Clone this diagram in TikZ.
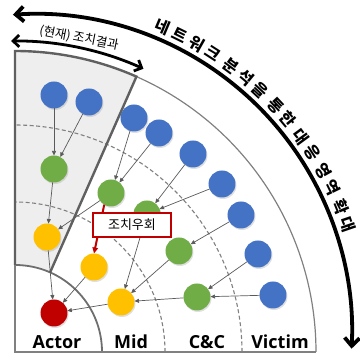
\documentclass[tikz,border=0pt]{standalone}
\usepackage{fontspec}
\setmainfont{Open Sans}
\newfontfamily\kfont{Noto Sans CJK KR}
\newfontfamily\lfont{Open Sans}
\usetikzlibrary{arrows.meta,shadows,calc}
\definecolor{cblue}{RGB}{68,114,196}
\definecolor{cgreen}{RGB}{112,173,71}
\definecolor{cyellow}{RGB}{255,192,0}
\definecolor{cred}{RGB}{192,0,0}
\definecolor{shadeg}{RGB}{238,238,238}
\definecolor{borderg}{RGB}{96,96,96}
\definecolor{lineg}{RGB}{128,128,128}
\definecolor{actorg}{RGB}{110,110,110}
\definecolor{conng}{RGB}{90,90,90}
\begin{document}
\begin{tikzpicture}[x=1pt,y=1pt,
  dot/.style={circle, minimum size=27pt, inner sep=0pt, outer sep=0pt,
    drop shadow={shadow xshift=1pt,shadow yshift=-1.5pt,opacity=0.25}},
  bn/.style={dot, fill=cblue},
  gn/.style={dot, fill=cgreen},
  yn/.style={dot, fill=cyellow},
  rn/.style={dot, fill=cred},
  conn/.style={draw=conng, line width=0.7pt, -{Triangle[length=4.5pt,width=4pt]}},
  dsh/.style={draw=lineg, line width=1.1pt, dash pattern=on 4pt off 2.5pt},
  bigch/.style={font=\kfont\bfseries\fontsize{16}{16}\selectfont, inner sep=0pt},
  zone/.style={font=\lfont\bfseries\fontsize{18}{18}\selectfont, anchor=base, inner sep=0pt},
  bigarrow/.style={line width=3.8pt, {Straight Barb[length=8pt,width=15pt]}-{Straight Barb[length=8pt,width=15pt]}},
  smallarrow/.style={line width=2.8pt, {Straight Barb[length=6pt,width=12pt]}-{Straight Barb[length=6pt,width=12pt]}}
]
\useasboundingbox (0,0) rectangle (360,355);

% shaded sector
\fill[shadeg] (15,304) arc[start angle=90,end angle=66.2,radius=301]
  -- ($(15,3)+(66.2:87)$) arc[start angle=66.2,end angle=90,radius=87] -- cycle;

% dashed arcs
\draw[dsh] (165,3) arc[start angle=0,end angle=90,radius=150];
\draw[dsh] (242,3) arc[start angle=0,end angle=90,radius=227];

% outer arc
\draw[lineg, line width=1.2pt] (316,3) arc[start angle=0,end angle=66.2,radius=301];
% actor arc
\draw[actorg, line width=1.8pt] (102,3) arc[start angle=0,end angle=90,radius=87];
% frame
\draw[lineg, line width=1.6pt] (15,304) -- (15,3) -- (316,3);
% shaded border
\draw[borderg, line width=2.4pt] (15,90) -- (15,304) arc[start angle=90,end angle=66.2,radius=301]
  -- ($(15,3)+(66.2:87)$);

% arcs with arrows
\draw[bigarrow] (34,23) ++(93.8:318) arc[start angle=93.8,end angle=-3,radius=318];
\draw[smallarrow] (15,3) ++(90.7:311) arc[start angle=90.7,end angle=65.6,radius=311];

% big text along arc
\foreach \c/\a [count=\i] in {네/67.1,트/63.8,워/60.5,크/57.2,분/53.5,석/50.2,을/46.9,통/43.2,한/39.9,대/36.2,응/32.9,영/29.2,역/25.9,확/22.2,대/18.9}
  \node[bigch, rotate=\a-90] (t\i) at ($(34,23)+(\a:331)$) {\c};

\node[font=\kfont\fontsize{12.5}{13}\selectfont, rotate=-11, inner sep=0pt] (cur) at (79,317) {(현재) 조치결과};

% nodes
\node[bn] (B1) at (54,260) {};
\node[bn] (B2) at (89,253) {};
\node[bn] (B3) at (134,237) {};
\node[bn] (B4) at (159,222) {};
\node[bn] (B5) at (193,201) {};
\node[bn] (B6) at (222,171) {};
\node[bn] (B7) at (241,140) {};
\node[bn] (B8) at (258,101) {};
\node[bn] (B9) at (273,60) {};
\node[gn] (G1) at (54,186) {};
\node[gn] (G2) at (111,162) {};
\node[gn] (G3) at (147,141) {};
\node[gn] (G4) at (179,104) {};
\node[gn] (G5) at (197,58) {};
\node[yn] (Y1) at (47,118) {};
\node[yn] (Y2) at (94,88) {};
\node[yn] (Y3) at (121,53) {};
\node[rn] (R) at (54,42) {};

% connectors
\draw[conn] (B1) -- (G1);
\draw[conn] (B2) -- (G1);
\draw[conn] (B3) -- (G2);
\draw[conn] (B4) -- (G2);
\draw[conn] (B5) -- (G3);
\draw[conn] (B6) -- (G3);
\draw[conn] (B7) -- (G4);
\draw[conn] (B8) -- (G5);
\draw[conn] (B9) -- (G5);
\draw[conn] (G1) -- (Y1);
\draw[conn] (G2) -- (Y1);
\draw[conn] (G3) -- (Y3);
\draw[conn] (G4) -- (Y3);
\draw[conn] (G5) -- (Y3);
\draw[conn] (Y1) -- (R);
\draw[conn] (Y2) -- (R);
\draw[conn] (Y3) -- (R);

% red bypass arrow and label
\draw[cred, line width=2pt, -{Triangle[length=6pt,width=5.5pt]}] (G2.240) -- (Y2.north);
\node[draw=cred, line width=1.6pt, fill=white, minimum width=78pt, minimum height=24pt, inner sep=0pt,
  font=\kfont\fontsize{13}{14}\selectfont] (lab) at (132,130) {조치우회};

% zone labels
\node[zone] (act) at (57,6) {Actor};
\node[zone] (mid) at (131,6) {Mid};
\node[zone] (cc) at (207,6) {C\&C};
\node[zone] (vic) at (280,6) {Victim};
\end{tikzpicture}
\end{document}
